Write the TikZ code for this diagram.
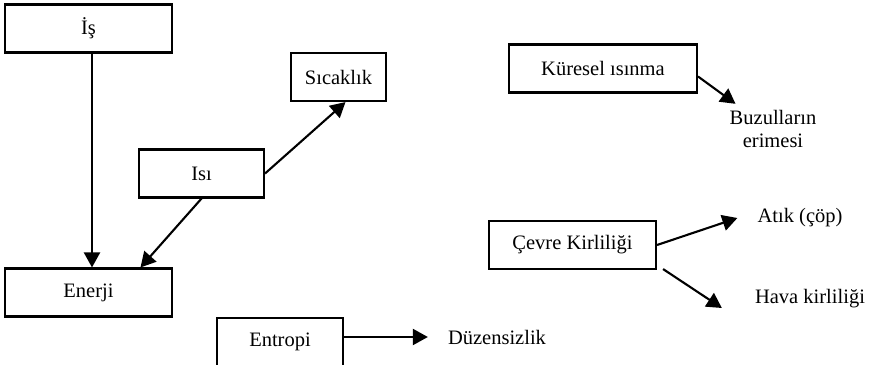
\documentclass[tikz,border=0pt]{standalone}
\usepackage{fontspec}
\setmainfont{Liberation Serif}
\usetikzlibrary{arrows.meta,calc}
\begin{document}
\begin{tikzpicture}[x=1pt,y=-1pt,
  every node/.style={font=\fontsize{20.5}{23.5}\selectfont, inner sep=0pt},
  box/.style={draw, line width=2.1pt, minimum width=#1, minimum height=48},
  lbl/.style={align=center},
  link/.style={line width=2.1pt, -{Triangle[length=15pt,width=16pt]}}]
  \path[use as bounding box, clip] (0,0) rectangle (872,364);

  % boxes
  \node[box=167] (is)       at (88.5,28.5)  {İş};
  \node[box=95]  (sicaklik) at (338.5,77)   {Sıcaklık};
  \node[box=125] (isi)      at (201.5,173.5){Isı};
  \node[box=167] (enerji)   at (88.5,292.5) {Enerji};
  \node[box=126] (entropi)  at (280,342)    {Entropi};
  \node[box=188] (kuresel)  at (603,68.5)   {Küresel ısınma};
  \node[box=167] (cevre)    at (572.5,245)  {Çevre Kirliliği};

  % plain labels
  \node[lbl] (buzul) at (773,129) {Buzulların\\erimesi};
  \node[lbl] (atik)  at (800,218) {Atık (çöp)};
  \node[lbl] (hava)  at (810,299) {Hava kirliliği};
  \node[lbl] (duzen) at (497,337) {Düzensizlik};

  % connectors
  \draw[link] ($(is.south)+(3.5,0)$) -- ($(enerji.north)+(3.5,0)$);
  \draw[link] (isi.south) -- ($(enerji.north)+(52,0)$);
  \draw[link] (isi.east) -- ($(sicaklik.south)+(7,0)$);
  \draw[link] ($(kuresel.east)+(0,8)$) -- ($(buzul.north west)+(6,-6)$);
  \draw[link] (cevre.east) -- ($(atik.west)+(-20,0)$);
  \draw[link] ($(cevre.south east)+(6,-1)$) -- ($(hava.west)+(-33,9)$);
  \draw[link] (entropi.east |- duzen.west) -- ($(duzen.west)+(-20,0)$);
\end{tikzpicture}
\end{document}
